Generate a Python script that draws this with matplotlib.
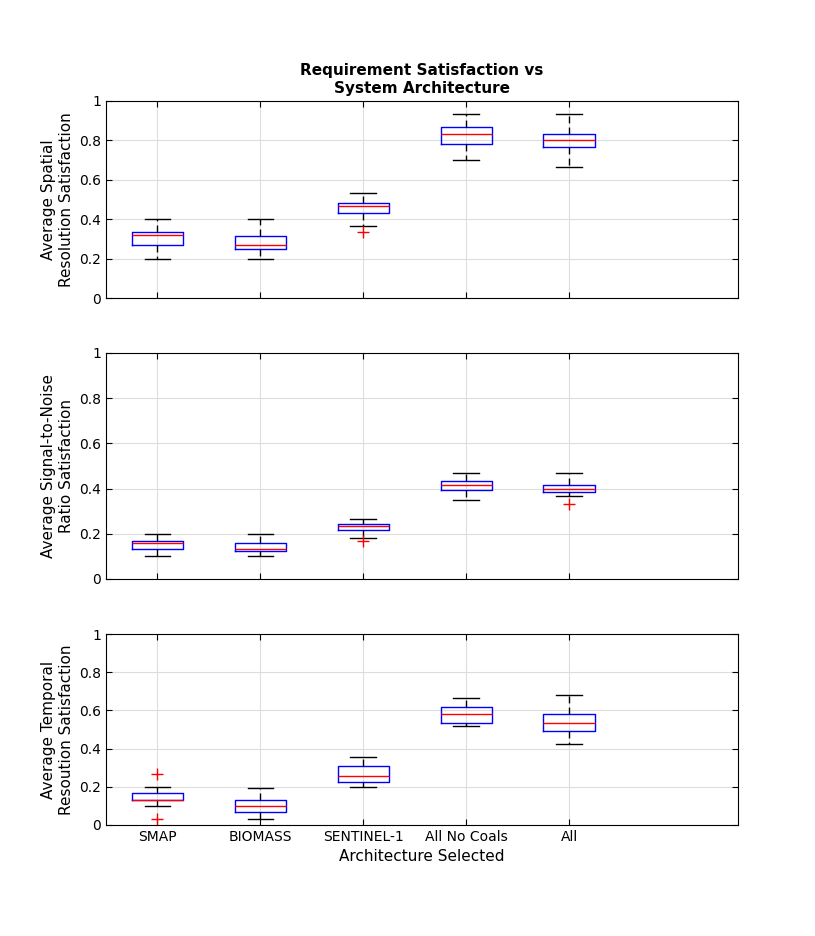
import matplotlib
matplotlib.use("Agg")
import matplotlib.pyplot as plt

categories = ["SMAP", "BIOMASS", "SENTINEL-1", "All No Coals", "All"]
# each: (whislo, q1, med, q3, whishi, fliers)
spatial = [(0.2,0.267,0.32,0.333,0.4,[]),(0.2,0.25,0.267,0.317,0.4,[]),
           (0.367,0.433,0.467,0.483,0.533,[0.333]),(0.7,0.783,0.833,0.867,0.933,[]),
           (0.667,0.767,0.8,0.833,0.933,[])]
snr = [(0.1,0.133,0.158,0.167,0.2,[]),(0.1,0.125,0.133,0.158,0.2,[]),
       (0.183,0.217,0.233,0.242,0.267,[0.167]),(0.35,0.392,0.417,0.433,0.467,[]),
       (0.367,0.383,0.4,0.417,0.467,[0.333])]
temporal = [(0.1,0.133,0.133,0.167,0.2,[0.033,0.267]),(0.033,0.067,0.1,0.133,0.194,[]),
            (0.2,0.225,0.258,0.308,0.358,[]),(0.517,0.533,0.583,0.617,0.667,[]),
            (0.425,0.492,0.533,0.583,0.683,[])]
ylabels = ["Average Spatial\nResolution Satisfaction",
           "Average Signal-to-Noise\nRatio Satisfaction",
           "Average Temporal\nResoution Satisfaction"]

W, H = 815, 936
fig = plt.figure(figsize=(W/100, H/100), dpi=100)
rects = [(101, 298), (353, 579), (634, 825)]
for i, (data, yl, (top, bot)) in enumerate(zip([spatial, snr, temporal], ylabels, rects)):
    ax = fig.add_axes([106/W, 1-bot/H, (738-106)/W, (bot-top)/H])
    stats = [dict(whislo=d[0], q1=d[1], med=d[2], q3=d[3], whishi=d[4], fliers=d[5])
             for d in data]
    ax.bxp(stats, positions=range(1, 6), widths=0.5,
           boxprops=dict(color="blue", lw=1),
           medianprops=dict(color="red", lw=1),
           whiskerprops=dict(color="black", lw=1, linestyle=(0, (5, 3))),
           capprops=dict(color="black", lw=1),
           flierprops=dict(marker="+", markeredgecolor="red", markersize=9, linestyle="none"),
           capwidths=0.25)
    ax.set_xlim(0.5, 6.64)
    ax.set_ylim(0, 1)
    ax.set_yticks([0, 0.2, 0.4, 0.6, 0.8, 1])
    ax.set_yticklabels(["0", "0.2", "0.4", "0.6", "0.8", "1"])
    ax.grid(True, color="#dddddd", lw=0.8)
    ax.set_axisbelow(True)
    ax.tick_params(direction="in", top=True, right=True, labelsize=10, length=4)
    ax.set_ylabel(yl, fontsize=11)
    ax.set_xticks(range(1, 6))
    if i < 2:
        ax.set_xticklabels([])
    else:
        ax.set_xticklabels(categories)
        ax.set_xlabel("Architecture Selected", fontsize=11)
    if i == 0:
        ax.set_title("Requirement Satisfaction vs\nSystem Architecture", fontsize=11, fontweight="bold")
fig.savefig("out.png", dpi=100)
